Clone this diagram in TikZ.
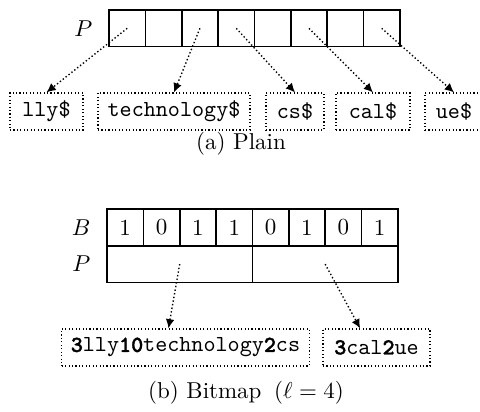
\documentclass[tikz,border=0pt]{standalone}
\usepackage{fontspec}
\setmonofont{lmmono10-regular.otf}[BoldFont=lmmonolt10-bold.otf, BoldFeatures={FakeBold=1.5}]
\usetikzlibrary{positioning,arrows.meta}
\begin{document}
\begin{tikzpicture}[
    cell/.style={draw, line width=0.7pt, minimum width=0.556cm, minimum height=0.56cm, inner sep=0pt, outer sep=0pt},
    wide/.style={cell, minimum width=2.224cm},
    strbox/.style={draw, densely dotted, line width=0.5pt, minimum height=0.566cm, inner xsep=4pt, inner ysep=3pt, font=\ttfamily},
    ptr/.style={-{Latex[length=4pt,width=3.8pt]}, densely dotted, line width=0.6pt}
]
    % Page size
    \useasboundingbox (0,0) rectangle (7.34,-6.30);

    % (a) Plain: pointer array P
    \foreach \i in {0,...,7}
        \node[cell] (p\i) at ({1.945+0.556*\i},-0.433) {};
    \node[left=0.13cm of p0] (plabel) {$P$};

    % Suffixes the pointers lead to
    \node[strbox, minimum width=1.116cm] (s1) at (0.711,-1.705) {lly\$};
    \node[strbox, minimum width=2.324cm] (s2) at (2.661,-1.705) {technology\$};
    \node[strbox, minimum width=0.887cm] (s3) at (4.511,-1.705) {cs\$};
    \node[strbox, minimum width=1.131cm] (s4) at (5.703,-1.705) {cal\$};
    \node[strbox, minimum width=0.887cm] (s5) at (6.942,-1.705) {ue\$};

    % Pointers
    \draw[ptr] (p0.center) -- (s1.north);
    \draw[ptr] (p2.center) -- (s2.north);
    \draw[ptr] (p3.center) -- (s3.north);
    \draw[ptr] (p5.center) -- (s4.north);
    \draw[ptr] (p7.center) -- (s5.north);

    \node (capa) at (3.685,-2.202) {(a) Plain};

    % (b) Bitmap: bit row B over the pointer row P
    \foreach \b [count=\i from 0] in {1,0,1,1,0,1,0,1}
        \node[cell] (b\i) at ({1.914+0.556*\i},-3.479) {\b};
    \node[wide, anchor=north west] (q0) at (b0.south west) {};
    \node[wide, anchor=north west] (q1) at (b4.south west) {};
    \node[left=0.13cm of b0] (blabel) {$B$};
    \node[left=0.13cm of q0] (qlabel) {$P$};

    % Packed blocks, lengths in bold
    \node[strbox, minimum width=3.746cm] (t1) at (2.836,-5.313) {\textbf{3}lly\textbf{10}technology\textbf{2}cs};
    \node[strbox, minimum width=1.636cm] (t2) at (5.757,-5.313) {\textbf{3}cal\textbf{2}ue};

    \draw[ptr] (q0.center) -- ([xshift=-0.26cm]t1.north);
    \draw[ptr] (q1.center) -- ([xshift=-0.25cm]t2.north);

    \node (capb) at (3.761,-6.009) {(b) Bitmap\hspace{0.55em}($\ell=4$)};
\end{tikzpicture}
\end{document}
